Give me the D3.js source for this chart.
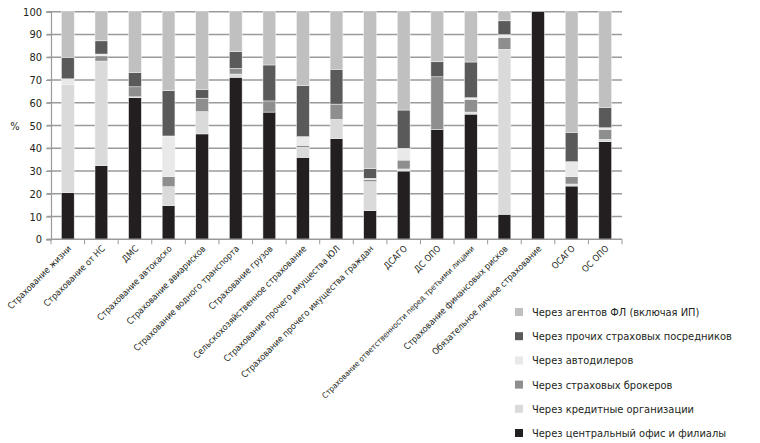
<!DOCTYPE html>
<html>
<head>
<meta charset="utf-8">
<script src="https://cdn.jsdelivr.net/npm/d3@7"></script>
<style>
  body { margin: 0; background: #fff; }
  text { font-family: "Liberation Sans Narrow", "DejaVu Sans Condensed", "Liberation Sans", sans-serif; fill: #231f20; }
</style>
</head>
<body>
<div id="chart"></div>
<script>
// categories (x axis)
var categories = ["Страхование жизни", "Страхование от НС", "ДМС", "Страхование автокаско",
	"Страхование авиарисков", "Страхование водного транспорта", "Страхование грузов",
	"Сельскохозяйственное страхование", "Страхование прочего имущества ЮЛ",
	"Страхование прочего имущества граждан", "ДСАГО", "ДС ОПО",
	"Страхование ответственности перед третьими лицами", "Страхование финансовых рисков",
	"Обязательное личное страхование", "ОСАГО", "ОС ОПО"];

// series values, % (bottom to top)
var central = [20.5, 32.4, 62.2, 14.8, 46.3, 71.2, 55.9, 36.0, 44.2, 12.6, 30.0, 48.3, 55.0, 11.0, 100, 23.4, 42.9];
var credit  = [47.5, 45.9, 0.4, 8.3, 9.8, 1.4, 0, 4.4, 8.5, 12.7, 0.9, 0, 0.9, 72.5, 0, 0.9, 1.0];
var broker  = [0, 2.3, 4.4, 4.4, 5.9, 2.5, 4.9, 0.9, 6.7, 1.0, 3.9, 23.1, 5.6, 5.2, 0, 3.2, 4.4];
var dealer  = [2.5, 0.8, 0, 17.9, 0, 0, 0, 3.8, 0, 0.5, 5.2, 0, 0.7, 1.2, 0, 6.6, 0.7];
var other   = [9.5, 5.8, 6.3, 19.9, 3.9, 7.3, 15.8, 22.4, 15.3, 4.2, 16.8, 6.6, 15.7, 6.1, 0, 12.9, 9.0];
var agents  = [20.0, 12.8, 26.7, 34.7, 34.1, 17.6, 23.4, 32.5, 25.3, 69.0, 43.2, 22.0, 22.1, 4.0, 0, 53.0, 42.0];

var seriesNames = ["Через центральный офис и филиалы", "Через кредитные организации",
	"Через страховых брокеров", "Через автодилеров",
	"Через прочих страховых посредников", "Через агентов ФЛ (включая ИП)"];
var seriesColors = ["#231f20", "#dadada", "#8e8e8e", "#e9e9e9", "#5a5a5a", "#c0c0c0"];
var yTicks = [0, 10, 20, 30, 40, 50, 60, 70, 80, 90, 100];

var width = 760, height = 443;
var plotLeft = 51, plotRight = 622, plotTop = 11.7, plotBottom = 239.3;

var svg = d3.select("#chart").append("svg")
	.attr("width", width)
	.attr("height", height);

var x = d3.scaleBand().domain(categories).range([plotLeft, plotRight]).paddingInner(0.62).paddingOuter(0.31);
var xb = d3.scaleBand().domain(categories).range([plotLeft, plotRight]);
var y = d3.scaleLinear().domain([0, 100]).range([plotBottom, plotTop]);

var table = categories.map(function(c, i) {
	return { cat: c, s0: central[i], s1: credit[i], s2: broker[i], s3: dealer[i], s4: other[i], s5: agents[i] };
});
var keys = ["s0", "s1", "s2", "s3", "s4", "s5"];
var stacked = d3.stack().keys(keys)(table);

//gridlines
svg.append("g")
	.selectAll("line")
	.data(yTicks.slice(1))
	.enter().append("line")
	.attr("x1", plotLeft - 4)
	.attr("x2", plotRight)
	.attr("y1", function(d) { return y(d); })
	.attr("y2", function(d) { return y(d); })
	.style("stroke", "#9a9a9a")
	.style("stroke-width", "1.4");

//bars
svg.append("g")
	.selectAll("g")
	.data(stacked)
	.enter().append("g")
	.style("fill", function(d, i) { return seriesColors[i]; })
	.selectAll("rect")
	.data(function(d) { return d; })
	.enter().append("rect")
	.attr("x", function(d) { return x(d.data.cat); })
	.attr("width", x.bandwidth())
	.attr("y", function(d) { return y(d[1]); })
	.attr("height", function(d) { return Math.max(0, y(d[0]) - y(d[1])); })
	.style("stroke", "#f4f4f4")
	.style("stroke-width", "0.5");

//y axis
var yAxis = svg.append("g")
	.attr("transform", "translate(" + plotLeft + ",0)")
	.call(d3.axisLeft(y).tickValues(yTicks).tickSize(5).tickPadding(4));
yAxis.select(".domain").style("stroke", "#9a9a9a").style("stroke-width", "1.2");
yAxis.selectAll(".tick line").style("stroke", "#9a9a9a");
yAxis.selectAll("text").style("font-size", "11px").style("fill", "#231f20")
	.style("font-family", "'DejaVu Sans Condensed', 'Liberation Sans', sans-serif");

svg.append("text")
	.attr("x", 15)
	.attr("y", 130)
	.attr("text-anchor", "middle")
	.style("font-size", "11px")
	.text("%");

//x axis
var xAxisG = svg.append("g").attr("transform", "translate(0," + plotBottom + ")");
xAxisG.append("line")
	.attr("x1", plotLeft - 4).attr("x2", plotRight)
	.style("stroke", "#9a9a9a").style("stroke-width", "1.4");
xAxisG.selectAll(".xt")
	.data(categories.concat(["end"]))
	.enter().append("line")
	.attr("class", "xt")
	.attr("x1", function(d, i) { return plotLeft + i * xb.bandwidth(); })
	.attr("x2", function(d, i) { return plotLeft + i * xb.bandwidth(); })
	.attr("y1", 0).attr("y2", 5)
	.style("stroke", "#9a9a9a");

xAxisG.selectAll(".xl")
	.data(categories)
	.enter().append("text")
	.attr("class", "xl")
	.attr("text-anchor", "end")
	.attr("transform", function(d) {
		return "translate(" + (xb(d) + xb.bandwidth() / 2 + 4) + ",10) rotate(-45)";
	})
	.style("font-size", function(d) { return d.length > 40 ? "8px" : "9px"; })
	.text(function(d) { return d; });

//legend (top item = top of stack)
var legend = svg.append("g");
var legendItems = d3.range(seriesNames.length).reverse();
legendItems.forEach(function(si, row) {
	var ly = 312 + row * 24.2;
	legend.append("rect")
		.attr("x", 515).attr("y", ly - 4)
		.attr("width", 8).attr("height", 8)
		.style("fill", seriesColors[si]);
	legend.append("text")
		.attr("x", 532).attr("y", ly + 4)
		.style("font-size", "11px")
		.text(seriesNames[si]);
});
</script>
</body>
</html>
